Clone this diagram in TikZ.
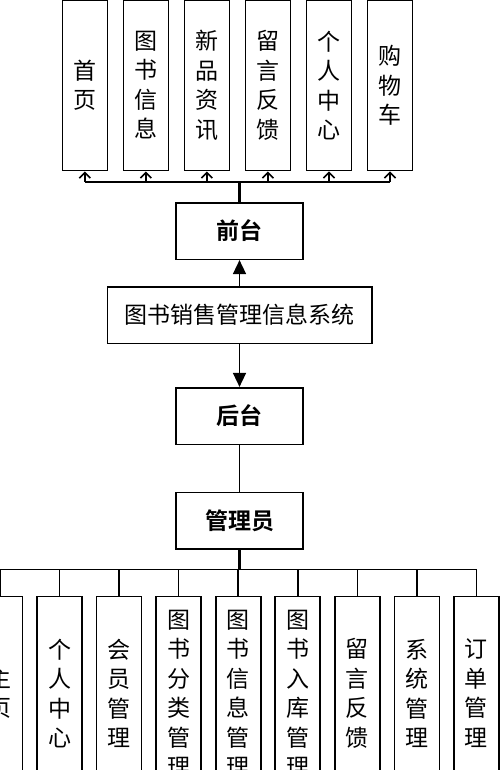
\documentclass[tikz,border=0pt]{standalone}
\usepackage{fontspec}
\setmainfont{Noto Sans CJK SC}[BoldFont={Noto Sans CJK SC Bold}]
\usetikzlibrary{arrows.meta}

\begin{document}
\begin{tikzpicture}[x=1pt,y=-1pt,every node/.style={font=\fontsize{23}{29.5}\selectfont}]
    \tikzstyle{col}=[draw,line width=1.6pt,fill=white,minimum width=45pt,inner sep=0pt,align=center];
    \tikzstyle{mid}=[draw,line width=1.6pt,fill=white,minimum width=127pt,minimum height=56.6pt,inner sep=0pt];
    \tikzstyle{heading}=[font=\bfseries\fontsize{23}{28}\selectfont];
    \tikzstyle{link}=[line width=1.6pt];
    \tikzstyle{trunk}=[line width=2.4pt];
    \clip (0,0) rectangle (501,770);

    % front end pages
    \foreach \name/\txt [count=\i from 0] in {home/{首\\页},info/{图\\书\\信\\息},news/{新\\品\\资\\讯},msg/{留\\言\\反\\馈},user/{个\\人\\中\\心},cart/{购\\物\\车}}
        \node[col,minimum height=170.7pt] (\name) at ({84.8+61.04*\i},85.3) {\txt};

    % middle column
    \node[mid,heading] (front) at (239.5,231) {前台};
    \node[mid,minimum width=264.4pt,font=\fontsize{23}{28}\selectfont] (sys) at (239.5,315) {图书销售管理信息系统};
    \node[mid,heading] (back)  at (239.5,416) {后台};
    \node[mid,heading] (admin) at (239.5,520.7) {管理员};

    \coordinate (fbus) at (239.5,181.7);
    \draw[trunk] (front.north) -- (fbus);
    \draw[link] (home.south |- fbus) -- (cart.south |- fbus);
    \foreach \name in {home,info,news,msg,user,cart}
        \draw[link,-{Straight Barb[length=5.5pt,width=11pt]}] (\name.south |- fbus) -- (\name.south);

    \draw[link,-{Triangle[length=14pt,width=13pt]}] (sys) -- (front);
    \draw[link,-{Triangle[length=14pt,width=13pt]}] (sys) -- (back);
    \draw[link] (back) -- (admin);

    % back end modules
    \foreach \name/\txt [count=\i from 0] in {main/{主\\页},self/{个\\人\\中\\心},member/{会\\员\\管\\理},cat/{图\\书\\分\\类\\管\\理},book/{图\\书\\信\\息\\管\\理},stock/{图\\书\\入\\库\\管\\理},reply/{留\\言\\反\\馈},sysm/{系\\统\\管\\理},order/{订\\单\\管\\理}}
        \node[col,minimum height=194pt] (\name) at ({59.55*\i},693.3) {\txt};

    \coordinate (abus) at (239.5,569.3);
    \draw[trunk] (admin.south) -- (abus);
    \draw[link] (main.north |- abus) -- (order.north |- abus);
    \foreach \name in {main,self,member,cat,book,stock,reply,sysm,order}
        \draw[link] (\name.north |- abus) -- (\name.north);
\end{tikzpicture}
\end{document}
